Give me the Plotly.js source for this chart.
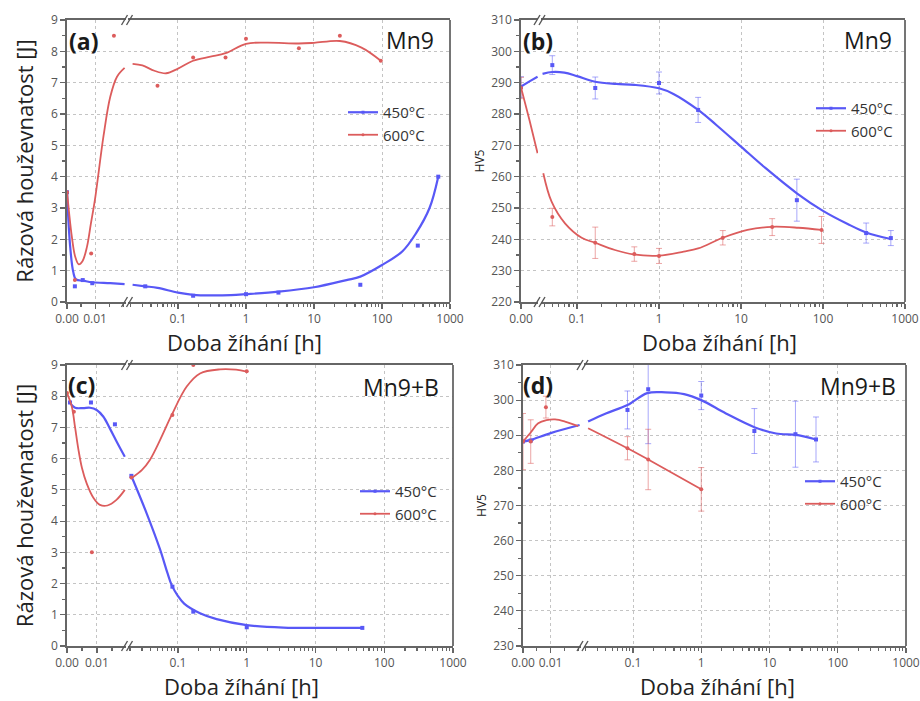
<!DOCTYPE html>
<html>
<head>
<meta charset="utf-8">
<script src="https://cdn.plot.ly/plotly-3.0.1.min.js"></script>
<style>
  html, body { margin: 0; padding: 0; background: #fff; }
  #chart { width: 920px; height: 701px; }
</style>
</head>
<body>
<div id="chart"></div>
<script>
// ---------- (a) Mn9, impact energy [J] ----------
const a450T = [0, 0.0028, 0.0056, 0.009, 0.033, 0.167, 1, 3, 48, 336, 672];
const a450J = [3.5, 0.5, 0.7, 0.6, 0.5, 0.2, 0.25, 0.3, 0.55, 1.8, 4.0];
const a600T = [0, 0.0028, 0.0086, 0.0167, 0.05, 0.167, 0.5, 1, 6, 24, 96];
const a600J = [3.5, 0.7, 1.55, 8.5, 6.9, 7.8, 7.8, 8.4, 8.1, 8.5, 7.7];
const a450FitT = [0, 0.0011, 0.0022, 0.0032, 0.0058, 0.009, 0.0154, 0.0205, 0.0215, 0.033, 0.05, 0.1, 0.167, 0.3, 0.6, 1, 3, 10, 30, 48, 100, 200, 316, 500, 672];
const a450FitJ = [3.5, 1.8, 0.97, 0.72, 0.68, 0.63, 0.6, 0.57, 0.55, 0.5, 0.45, 0.3, 0.23, 0.21, 0.22, 0.25, 0.33, 0.47, 0.7, 0.81, 1.18, 1.62, 2.19, 3.0, 4.0];
const a600FitT = [0, 0.0008, 0.0017, 0.0029, 0.0042, 0.0055, 0.0071, 0.0085, 0.01, 0.013, 0.0154, 0.0178, 0.0205, 0.0215, 0.03, 0.045, 0.067, 0.1, 0.167, 0.3, 0.5, 1, 2, 6, 10, 24, 50, 96];
const a600FitJ = [3.55, 2.8, 2.1, 1.45, 1.2, 1.3, 1.76, 2.5, 3.3, 5.3, 6.55, 7.19, 7.47, 7.6, 7.55, 7.38, 7.3, 7.45, 7.7, 7.83, 7.94, 8.24, 8.28, 8.25, 8.27, 8.33, 8.12, 7.7];

// ---------- (b) Mn9, hardness HV5 ----------
const b450T = [0, 0.05, 0.167, 1, 3, 48, 336, 672];
const b450HV = [288.6, 295.6, 288.3, 289.9, 281.3, 252.5, 242, 240.4];
const b450Err = [3.3, 3.0, 3.5, 3.5, 4.0, 6.7, 3.2, 2.4];
const b600T = [0, 0.05, 0.167, 0.5, 1, 6, 24, 96];
const b600HV = [288.3, 247.1, 238.9, 235.3, 234.7, 240.5, 243.9, 243];
const b600Err = [3.4, 2.8, 5.0, 2.3, 2.4, 2.3, 2.7, 4.3];
const b450FitT = [0, 0.01, 0.0195, 0.038, 0.05, 0.07, 0.1, 0.167, 0.3, 0.5, 1, 1.5, 3, 5, 10, 20, 48, 100, 200, 336, 672];
const b450FitHV = [288.8, 290.4, 291.9, 292.8, 293.4, 293.2, 292.1, 290.3, 289.6, 289.3, 288.2, 286.4, 281.3, 276.5, 269.6, 262.7, 254.7, 249.1, 244.9, 242.2, 240.1];
const b600FitT = [0, 0.01, 0.0195, 0.0388, 0.049, 0.0714, 0.114, 0.166, 0.29, 0.486, 1, 2, 3, 6, 12, 24, 50, 96];
const b600FitHV = [288.5, 278, 267.5, 261.1, 252, 245.1, 240.5, 238.9, 236.6, 235.2, 234.8, 236.1, 237.1, 240.5, 243, 244, 243.7, 243];

// ---------- (c) Mn9+B, impact energy [J] ----------
const c450T = [0.001, 0.008, 0.016, 0.021, 0.083, 0.167, 1, 48];
const c450J = [7.8, 7.8, 7.1, 5.45, 1.9, 1.1, 0.6, 0.58];
const c600T = [0, 0.0023, 0.0083, 0.021, 0.083, 0.167, 1];
const c600J = [8.1, 7.5, 3.0, 5.4, 7.4, 9.0, 8.8];
const c450FitT = [0.001, 0.0027, 0.0054, 0.0077, 0.0099, 0.0121, 0.0143, 0.0166, 0.0193, 0.0212, 0.035, 0.0547, 0.07, 0.081, 0.1, 0.124, 0.209, 0.365, 1, 3.4, 15, 48];
const c450FitJ = [7.79, 7.63, 7.62, 7.63, 7.56, 7.35, 6.97, 6.54, 6.06, 5.42, 4.25, 3.1, 2.35, 1.95, 1.6, 1.35, 1.05, 0.86, 0.67, 0.59, 0.58, 0.58];
const c600FitT = [0, 0.0016, 0.0027, 0.0038, 0.005, 0.0066, 0.0088, 0.011, 0.0135, 0.0165, 0.0193, 0.0212, 0.03, 0.039, 0.055, 0.081, 0.134, 0.209, 0.409, 0.7, 1];
const c600FitJ = [8.1, 7.67, 7.0, 6.3, 5.7, 5.2, 4.75, 4.52, 4.5, 4.68, 5.0, 5.38, 5.64, 5.96, 6.6, 7.4, 8.31, 8.73, 8.86, 8.85, 8.79];

// ---------- (d) Mn9+B, hardness HV5 ----------
const d450T = [0, 0.0028, 0.083, 0.167, 1, 6, 24, 48];
const d450HV = [288.2, 288.5, 297.2, 303.1, 301.3, 291.2, 290.3, 288.8];
const d450Err = [null, null, 5.4, 15.5, 4.0, 6.4, 9.4, 6.4];
const d600T = [0, 0.0028, 0.0083, 0.083, 0.167, 1];
const d600HV = [288.2, 288.2, 298, 286.3, 283.1, 274.6];
const d600Err = [8.0, 6.2, 3.1, 3.3, 8.6, 6.2];
const d450FitT = [0, 0.0028, 0.01, 0.0205, 0.022, 0.04, 0.083, 0.162, 0.3, 0.56, 1, 2.3, 6, 12.5, 25, 48];
const d450FitHV = [288.2, 288.7, 290.6, 292.9, 293.9, 296.2, 298.6, 302.0, 302.2, 301.7, 300.0, 296.2, 292.3, 290.5, 290.1, 288.8];
const d600FitT = [0, 0.003, 0.0055, 0.0085, 0.0116, 0.0152, 0.02, 0.022, 0.083, 0.167, 1];
const d600FitHV = [288.2, 291.0, 293.4, 294.3, 294.5, 293.9, 292.6, 292, 286.3, 283.1, 274.6];

// ---------- labels ----------
const seriesNames = ['450°C', '600°C'];
const panelTags = ['(a)', '(b)', '(c)', '(d)'];
const materials = ['Mn9', 'Mn9', 'Mn9+B', 'Mn9+B'];
const xTitle = 'Doba žíhání [h]';
const yTitleEnergy = 'Rázová houževnatost [J]';
const yTitleHardness = 'HV5';
const linTickVals = [0, 0.01];
const linTickText = ['0.00', '0.01'];
const logTickVals = [0.1, 1, 10, 100, 1000];
const logTickText = ['0.1', '1', '10', '100', '1000'];

// ---------- styling ----------
const W = 920, H = 701;
const fx = p => p / W;
const fy = p => 1 - p / H;
const BLUE = '#5858f6', RED = '#dc5c5c';
const BLUE_ERR = 'rgba(96,96,246,0.55)', RED_ERR = 'rgba(220,92,92,0.55)';
const AX = '#666', GRID = '#c4c4c4';
const FONT = 'Open Sans, Liberation Sans, sans-serif';

// panel geometry (pixels): left segment is linear, right segment logarithmic
const panels = [
  { lin: [67, 126], linRange: [0, 0.021], log: [128, 450], logRange: [-1.735, 3.0], yPx: [20, 302], yRange: [0, 9], yDtick: 1, cut: 0.021, linTicks: 2,
    s450: [a450T, a450J, null, a450FitT, a450FitJ], s600: [a600T, a600J, null, a600FitT, a600FitJ], yTitle: yTitleEnergy },
  { lin: [521, 538], linRange: [0, 0.02], log: [541, 905], logRange: [-1.439, 3.0], yPx: [20, 302], yRange: [220, 310], yDtick: 10, cut: 0.02, linTicks: 1,
    s450: [b450T, b450HV, b450Err, b450FitT, b450FitHV], s600: [b600T, b600HV, b600Err, b600FitT, b600FitHV], yTitle: yTitleHardness },
  { lin: [67, 126], linRange: [0, 0.0197], log: [128, 453], logRange: [-1.727, 3.0], yPx: [365, 646], yRange: [0, 9], yDtick: 1, cut: 0.0197, linTicks: 2,
    s450: [c450T, c450J, null, c450FitT, c450FitJ], s600: [c600T, c600J, null, c600FitT, c600FitJ], yTitle: yTitleEnergy },
  { lin: [523, 581], linRange: [0, 0.021], log: [584, 906], logRange: [-1.718, 3.0], yPx: [365, 646], yRange: [230, 310], yDtick: 10, cut: 0.021, linTicks: 2,
    s450: [d450T, d450HV, d450Err, d450FitT, d450FitHV], s600: [d600T, d600HV, d600Err, d600FitT, d600FitHV], yTitle: yTitleHardness }
];
const tagPos = [[67, 41], [521, 41], [66, 385], [521, 385]];
const matPos = [[436, 40], [894, 40], [441, 387], [898, 386]];
const xTitlePos = [[244, 342], [719, 342], [241, 686], [717, 686]];
const legendPos = [[343, 96], [811, 92], [355, 475], [800, 465]];

function split(t, v, e, cut) {
  const lo = { t: [], v: [], e: [] }, hi = { t: [], v: [], e: [] };
  t.forEach((ti, i) => {
    const g = ti <= cut ? lo : hi;
    g.t.push(ti); g.v.push(v[i]); g.e.push(e ? e[i] : null);
  });
  return [lo, hi];
}

const traces = [];
const layout = {
  width: W, height: H,
  margin: { l: 0, r: 0, t: 0, b: 0 },
  paper_bgcolor: '#fff', plot_bgcolor: 'rgba(0,0,0,0)',
  font: { family: FONT, color: '#444' },
  showlegend: true,
  annotations: [], shapes: []
};

panels.forEach((p, k) => {
  const xl = 'x' + (k === 0 ? '' : 2 * k + 1);
  const xg = 'x' + (2 * k + 2);
  const yk = 'y' + (k === 0 ? '' : k + 1);
  const xlName = 'xaxis' + (k === 0 ? '' : 2 * k + 1);
  const xgName = 'xaxis' + (2 * k + 2);
  const yName = 'yaxis' + (k === 0 ? '' : k + 1);
  const legName = 'legend' + (k === 0 ? '' : k + 1);
  const yDom = [fy(p.yPx[1]), fy(p.yPx[0])];

  const common = {
    ticks: 'outside', ticklen: 5, tickwidth: 1.2, tickcolor: AX,
    showline: true, linecolor: AX, linewidth: 1.8,
    showgrid: true, gridcolor: GRID, griddash: 'dot', gridwidth: 1,
    zeroline: false, fixedrange: true,
    tickfont: { family: FONT, size: 12, color: '#555' }
  };

  layout[xlName] = Object.assign({}, common, {
    type: 'linear', domain: [fx(p.lin[0]), fx(p.lin[1])], range: p.linRange, anchor: yk,
    tickmode: 'array', tickvals: linTickVals.slice(0, p.linTicks), ticktext: linTickText.slice(0, p.linTicks),
    mirror: true,
    minor: p.linTicks > 1 ? { ticks: 'outside', ticklen: 3, tickcolor: AX, dtick: 0.005, showgrid: false } : undefined
  });
  layout[xgName] = Object.assign({}, common, {
    type: 'log', domain: [fx(p.log[0]), fx(p.log[1])], range: p.logRange, anchor: yk,
    tickmode: 'array', tickvals: logTickVals, ticktext: logTickText,
    mirror: true,
    minor: { ticks: 'outside', ticklen: 3, tickcolor: AX, dtick: 'D1', showgrid: false }
  });
  const energy = p.yDtick === 1;
  layout[yName] = Object.assign({}, common, {
    type: 'linear', domain: yDom, range: p.yRange, anchor: xl, dtick: p.yDtick,
    minor: { ticks: 'outside', ticklen: 3, tickcolor: AX, dtick: p.yDtick / 2, showgrid: false },
    title: energy
      ? { text: p.yTitle, font: { family: FONT, size: 22, color: '#222' }, standoff: 11 }
      : { text: p.yTitle, font: { family: FONT, size: 12, color: '#222' }, standoff: 4 }
  });

  // right frame edge
  layout.shapes.push({ type: 'line', xref: xg + ' domain', yref: yk + ' domain', x0: 1, x1: 1, y0: 0, y1: 1,
    line: { color: AX, width: 1.8 } });

  // axis-break marks (two slanted strokes) on bottom and top edges
  const bx = (p.lin[1] + p.log[0]) / 2;
  [p.yPx[0], p.yPx[1]].forEach(yy => {
    [-2.5, 2.5].forEach(o => {
      layout.shapes.push({ type: 'line', xref: 'paper', yref: 'paper',
        x0: fx(bx + o - 3), y0: fy(yy + 5), x1: fx(bx + o + 3), y1: fy(yy - 5),
        line: { color: '#555', width: 1.4 } });
    });
  });

  // panel tag and material
  layout.annotations.push({ xref: 'paper', yref: 'paper', x: fx(tagPos[k][0]), y: fy(tagPos[k][1]),
    text: '<b>' + panelTags[k] + '</b>', showarrow: false, xanchor: 'left', yanchor: 'middle',
    font: { family: FONT, size: 23, color: '#1a1a1a' } });
  layout.annotations.push({ xref: 'paper', yref: 'paper', x: fx(matPos[k][0]), y: fy(matPos[k][1]),
    text: materials[k], showarrow: false, xanchor: 'right', yanchor: 'middle',
    font: { family: FONT, size: 23, color: '#1a1a1a' } });
  // x-axis title spanning both segments
  layout.annotations.push({ xref: 'paper', yref: 'paper', x: fx(xTitlePos[k][0]), y: fy(xTitlePos[k][1]),
    text: xTitle, showarrow: false, xanchor: 'center', yanchor: 'middle', borderpad: 0,
    font: { family: FONT, size: 22, color: '#222' } });

  layout[legName] = {
    x: fx(legendPos[k][0]), y: fy(legendPos[k][1]), xanchor: 'left', yanchor: 'top',
    bgcolor: 'rgba(0,0,0,0)', borderwidth: 0, tracegroupgap: 0,
    font: { family: FONT, size: 15, color: '#333' }
  };

  [[p.s450, BLUE, BLUE_ERR, 'square', 2.2], [p.s600, RED, RED_ERR, 'circle', 1.8]].forEach(([s, col, ecol, sym, lw], si) => {
    const [pt, pv, pe, ft, fv] = s;
    const [fLo, fHi] = split(ft, fv, null, p.cut);
    const [pLo, pHi] = split(pt, pv, pe, p.cut);
    [[fLo, xl], [fHi, xg]].forEach(([g, xa]) => {
      traces.push({ type: 'scatter', mode: 'lines', x: g.t, y: g.v, xaxis: xa, yaxis: yk,
        line: { color: col, width: lw, shape: 'spline', smoothing: 1 }, showlegend: false, hoverinfo: 'skip' });
    });
    [[pLo, xl], [pHi, xg]].forEach(([g, xa]) => {
      const tr = { type: 'scatter', mode: 'markers', x: g.t, y: g.v, xaxis: xa, yaxis: yk,
        marker: { color: col, size: 4, symbol: sym }, showlegend: false };
      if (pe) tr.error_y = { type: 'data', array: g.e, visible: true, color: ecol, thickness: 1, width: 3 };
      traces.push(tr);
    });
    // legend entry
    traces.push({ type: 'scatter', mode: 'lines+markers', x: [null], y: [null], xaxis: xg, yaxis: yk,
      name: seriesNames[si], legend: legName,
      line: { color: col, width: lw }, marker: { color: col, size: 3, symbol: sym } });
  });
});

Plotly.newPlot('chart', traces, layout, { staticPlot: true, displayModeBar: false });
</script>
</body>
</html>
